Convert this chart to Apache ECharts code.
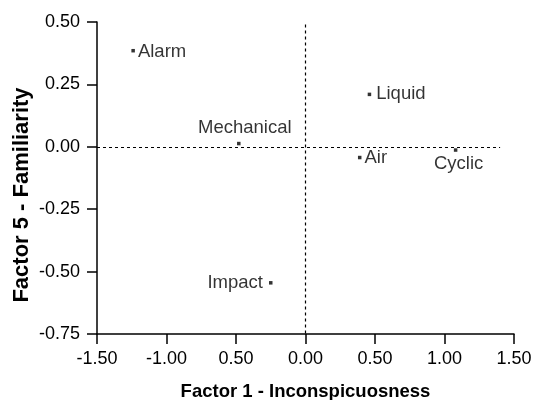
<!DOCTYPE html>
<html>
<head>
<meta charset="utf-8">
<script src="https://cdn.jsdelivr.net/npm/echarts@6/dist/echarts.min.js"></script>
<style>
html, body { margin: 0; padding: 0; background: #fff; }
#main { width: 545px; height: 400px; }
</style>
</head>
<body>
<div id="main"></div>
<script>
var names   = ['Alarm', 'Liquid', 'Mechanical', 'Air', 'Cyclic', 'Impact'];
var factor1 = [-1.24, 0.46, -0.48, 0.39, 1.08, -0.25];
var factor5 = [0.385, 0.21, 0.013, -0.043, -0.013, -0.545];

var xTickLabels = ['-1.50', '-1.00', '0.50', '0.00', '0.50', '1.00', '1.50'];
var yTickLabels = ['-0.75', '-0.50', '-0.25', '0.00', '0.25', '0.50'];

var xTitle = 'Factor 1 - Inconspicuosness';
var yTitle = 'Factor 5 - Familiarity';

// where each label sits relative to its point
var labelPlace = {
    Alarm:      {position: 'right', distance: 3, offset: [0, 1]},
    Liquid:     {position: 'right', distance: 5, offset: [0, 0]},
    Mechanical: {position: 'top',   distance: 4, offset: [6, 0]},
    Air:        {position: 'right', distance: 3, offset: [0, 0]},
    Cyclic:     {position: 'bottom', distance: 3, offset: [3, 0]},
    Impact:     {position: 'left',  distance: 6, offset: [0, 0]}
};

var font = 'Liberation Sans, Arial, sans-serif';
var axisColor = '#000';

var points = names.map(function(name, i)
{
    var place = labelPlace[name];
    return {
        name: name,
        value: [factor1[i], factor5[i]],
        label: {
            show: true,
            formatter: name,
            color: '#000',
            fontFamily: font,
            fontSize: 18.5,
            position: place.position,
            distance: place.distance,
            offset: place.offset
        }
    };
});

var chart = echarts.init(document.getElementById('main'));
var option = {
    animation: false,
    backgroundColor: '#fff',
    grid: {left: 97, right: 31, top: 22, bottom: 66, containLabel: false, outerBoundsMode: 'none'},
    xAxis: {
        type: 'value',
        min: -1.5,
        max: 1.5,
        interval: 0.5,
        name: xTitle,
        nameLocation: 'middle',
        nameGap: 48,
        nameMoveOverlap: false,
        nameTextStyle: {fontFamily: font, fontSize: 18.5, fontWeight: 'bold', color: '#000'},
        axisLine: {show: true, onZero: false, lineStyle: {color: axisColor, width: 1.5}},
        axisTick: {show: true, length: 10, lineStyle: {color: axisColor, width: 1.5}},
        splitLine: {show: false},
        axisLabel: {
            fontFamily: font, fontSize: 18, color: '#000', margin: 16,
            formatter: function(v) { return xTickLabels[Math.round((v + 1.5) / 0.5)]; }
        }
    },
    yAxis: {
        type: 'value',
        min: -0.75,
        max: 0.5,
        interval: 0.25,
        name: yTitle,
        nameLocation: 'middle',
        nameGap: 64,
        nameMoveOverlap: false,
        nameTextStyle: {fontFamily: font, fontSize: 22, fontWeight: 'bold', color: '#000', padding: [0, 34, 0, 0]},
        axisLine: {show: true, onZero: false, lineStyle: {color: axisColor, width: 1.5}},
        axisTick: {show: true, length: 10, lineStyle: {color: axisColor, width: 1.5}},
        splitLine: {show: false},
        axisLabel: {
            fontFamily: font, fontSize: 18, color: '#000', margin: 17,
            formatter: function(v) { return yTickLabels[Math.round((v + 0.75) / 0.25)]; }
        }
    },
    series: [
        {
            type: 'scatter',
            symbol: 'rect',
            symbolSize: 3.5,
            itemStyle: {color: '#000'},
            data: points,
            markLine: {
                silent: true,
                symbol: 'none',
                label: {show: false},
                lineStyle: {color: '#000', type: [3, 3], width: 1.2},
                data: [
                    [{coord: [-1.5, 0]}, {coord: [1.4, 0]}],
                    [{coord: [0, 0.49]}, {coord: [0, -0.75]}]
                ]
            }
        }
    ]
};
chart.setOption(option);
</script>
</body>
</html>
